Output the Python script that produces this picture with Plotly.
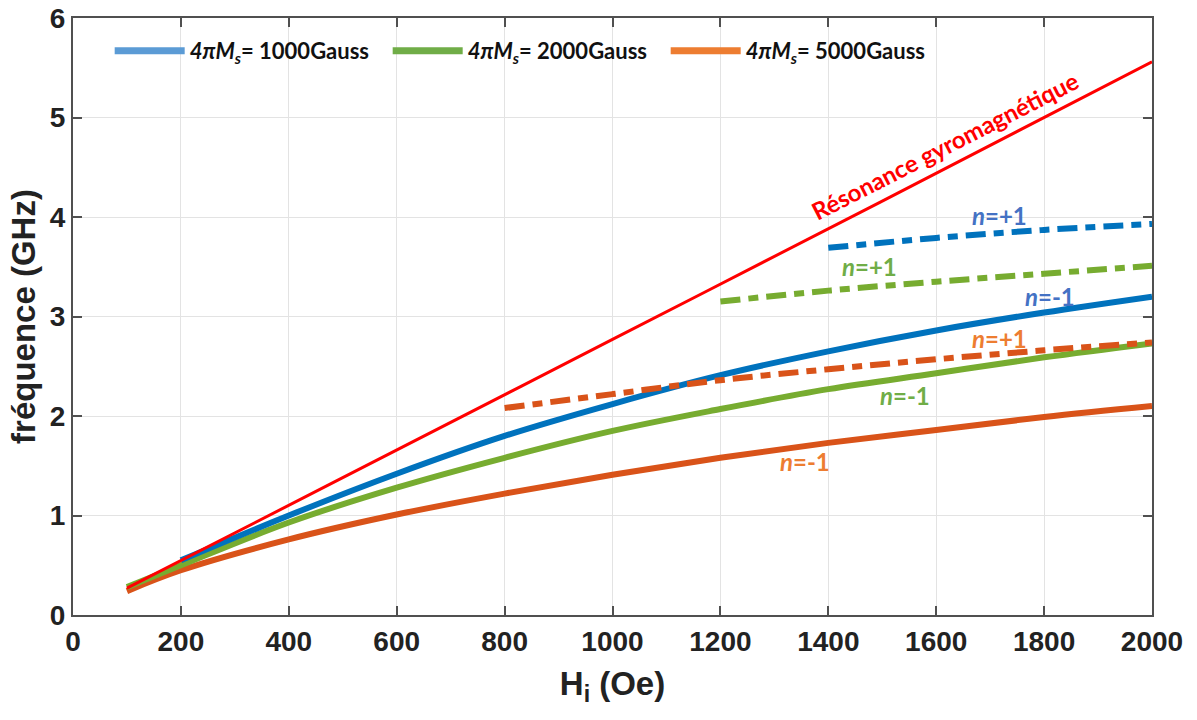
import plotly.graph_objects as go

# ---------------- data ----------------
H_res = [100, 500, 1000, 1500, 2000]
f_res = [0.27, 1.38, 2.77, 4.16, 5.56]

H_1000_m = [200, 400, 600, 800, 1000, 1200, 1400, 1600, 1800, 2000]
f_1000_m = [0.55, 1.00, 1.42, 1.80, 2.12, 2.41, 2.65, 2.86, 3.04, 3.20]
H_1000_p = [1400, 1600, 1800, 2000]
f_1000_p = [3.69, 3.79, 3.87, 3.93]

H_2000_m = [100, 200, 400, 600, 800, 1000, 1200, 1400, 1600, 1800, 2000]
f_2000_m = [0.28, 0.50, 0.93, 1.28, 1.58, 1.85, 2.07, 2.27, 2.43, 2.59, 2.73]
H_2000_p = [1200, 1400, 1600, 1800, 2000]
f_2000_p = [3.15, 3.26, 3.35, 3.43, 3.51]

H_5000_m = [100, 200, 400, 600, 800, 1000, 1200, 1400, 1600, 1800, 2000]
f_5000_m = [0.24, 0.45, 0.76, 1.01, 1.22, 1.41, 1.58, 1.73, 1.86, 1.99, 2.10]
H_5000_p = [800, 1000, 1200, 1400, 1600, 1800, 2000]
f_5000_p = [2.08, 2.22, 2.36, 2.47, 2.57, 2.66, 2.74]

legend_names = ["1000", "2000", "5000"]
x_ticks = list(range(0, 2001, 200))
y_ticks = list(range(0, 7))

BLUE, GREEN, ORANGE, RED = "#0072BD", "#77AC30", "#D95319", "#FF0000"
LBLUE, LGREEN, LORANGE = "#5B9BD5", "#70AD47", "#ED7D31"
DASH = "20px,8px,10px,8px"

fig = go.Figure()

def add(x, y, color, width, dash="solid"):
    fig.add_trace(go.Scatter(x=x, y=y, mode="lines", showlegend=False,
                             line=dict(color=color, width=width, dash=dash, shape="spline"),
                             hoverinfo="skip"))

add(H_5000_m, f_5000_m, ORANGE, 6)
add(H_2000_m, f_2000_m, GREEN, 6)
add(H_1000_m, f_1000_m, BLUE, 6)
add(H_5000_p, f_5000_p, ORANGE, 6, DASH)
add(H_2000_p, f_2000_p, GREEN, 6, DASH)
add(H_1000_p, f_1000_p, BLUE, 6, DASH)
add(H_res, f_res, RED, 3)

for name, col in zip(legend_names, [LBLUE, LGREEN, LORANGE]):
    fig.add_trace(go.Scatter(x=[None], y=[None], mode="lines",
                             name=f"<i>4πM<sub>s</sub></i>= {name}Gauss",
                             line=dict(color=col, width=7)))

ann_font = "Lato, Open Sans, sans-serif"
def lab(x, y, text, color, size=24, angle=0):
    fig.add_annotation(x=x, y=y, text=text, showarrow=False, textangle=angle,
                       font=dict(family=ann_font, size=size, color=color, weight="bold"))

lab(1616, 4.72, "Résonance gyromagnétique", RED, 24, -27)
lab(1718, 4.02, "<i>n</i>=+1", "#4472C4")
lab(1477, 3.50, "<i>n</i>=+1", LGREEN)
lab(1811, 3.20, "<i>n</i>=-1", "#4472C4")
lab(1718, 2.78, "<i>n</i>=+1", LORANGE)
lab(1542, 2.21, "<i>n</i>=-1", LGREEN)
lab(1357, 1.54, "<i>n</i>=-1", LORANGE)

axis_common = dict(showgrid=True, gridcolor="#e3e3e3", gridwidth=1,
                   showline=True, linecolor="#505050", linewidth=2, mirror="ticks",
                   ticks="inside", ticklen=9, tickcolor="#505050", tickwidth=1.5,
                   zeroline=False, automargin=False, ticklabeloverflow="allow")

SANS = "Liberation Sans, Arial, sans-serif"
fig.update_layout(
    width=1197, height=720,
    paper_bgcolor="white", plot_bgcolor="white",
    margin=dict(l=73, r=45, t=18, b=105),
    xaxis=dict(range=[0, 2000], tickvals=x_ticks,
               tickfont=dict(family=SANS, size=28, color="#222222", weight="bold"),
               title=dict(text="H<sub>i</sub> (Oe)", standoff=16,
                          font=dict(family=SANS, size=33, color="#222222", weight="bold")),
               **axis_common),
    yaxis=dict(range=[0, 6], tickvals=y_ticks,
               tickfont=dict(family=SANS, size=28, color="#222222", weight="bold"),
               title=dict(text="fréquence (GHz)", standoff=4,
                          font=dict(family=SANS, size=33, color="#222222", weight="bold")),
               **axis_common),
    legend=dict(orientation="h", x=0.034, y=0.98, xanchor="left", yanchor="top",
                bgcolor="rgba(255,255,255,0)", itemwidth=70,
                entrywidth=193, entrywidthmode="pixels",
                font=dict(family=ann_font, size=22, color="#111111", weight="bold")),
)

fig.write_html("out.html", config={"displayModeBar": False},
               post_script="document.body.style.margin='0';")
